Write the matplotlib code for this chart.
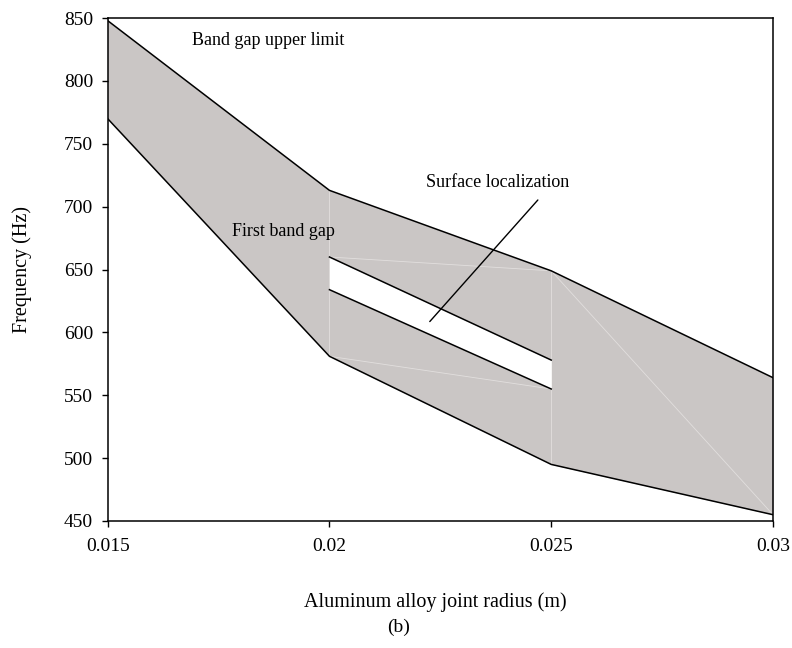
import matplotlib
matplotlib.use("Agg")
import matplotlib.pyplot as plt

# joint radius (m) and band gap edges (Hz)
radius = [0.015, 0.02, 0.025, 0.03]
upper = [848, 713, 649, 564]
lower = [770, 581, 495, 455]
# surface localization window (white stripe inside the gap)
win_x = [0.02, 0.025]
win_top = [660, 578]
win_bot = [634, 555]

FILL = "#cac6c5"
plt.rcParams["font.family"] = ["Liberation Serif", "DejaVu Serif"]
plt.rcParams["font.size"] = 13

fig = plt.figure(figsize=(7.92, 6.48), dpi=100)
ax = fig.add_axes([0.136, 0.196, 0.840, 0.776])

ax.fill_between(radius, lower, upper, color=FILL, lw=0)
ax.fill_between(win_x, win_bot, win_top, color="white", lw=0, zorder=2)

# faint mesh seams in the shaded area
seam = dict(color="#e2dfde", lw=0.6, zorder=1.5)
ax.plot([0.02, 0.025], [win_top[0], upper[2]], **seam)
ax.plot([0.02, 0.025], [lower[1], win_bot[1]], **seam)
ax.plot([0.02, 0.02], [lower[1], upper[1]], **seam)
ax.plot([0.025, 0.025], [lower[2], upper[2]], **seam)
ax.plot([0.025, 0.03], [upper[2], lower[3]], **seam)

ax.plot(radius, upper, color="black", lw=1.1, zorder=3)
ax.plot(radius, lower, color="black", lw=1.1, zorder=3)
ax.plot(win_x, win_top, color="black", lw=1.1, zorder=3)
ax.plot(win_x, win_bot, color="black", lw=1.1, zorder=3)

ax.text(0.01689, 832, "Band gap upper limit", va="center", fontsize=13)
ax.text(0.0178, 680, "First band gap", va="center", fontsize=13)
ax.text(0.02217, 719, "Surface localization", va="center", fontsize=13)
ax.annotate("", xy=(0.02222, 607), xytext=(0.02474, 707),
            arrowprops=dict(arrowstyle="-", color="black", lw=1.0), zorder=4)

ax.set_xlim(0.015, 0.03)
ax.set_ylim(450, 850)
ax.set_xticks([0.015, 0.02, 0.025, 0.03])
ax.set_xticklabels(["0.015", "0.02", "0.025", "0.03"])
ax.set_yticks(range(450, 851, 50))
ax.tick_params(direction="out", length=4.5, width=1, pad=6, labelsize=14)
ax.tick_params(axis="x", pad=8)
for s in ax.spines.values():
    s.set_linewidth(1.1)

ax.set_ylabel("Frequency (Hz)", fontsize=14.5)
ax.yaxis.set_label_coords(-0.129, 0.5)
ax.yaxis.label.set_va("center")
ax.set_xlabel("Aluminum alloy joint radius (m)", fontsize=14.5)
ax.xaxis.set_label_coords(0.493, -0.161)
ax.xaxis.label.set_va("center")
fig.text(0.503, 0.0324, "(b)", ha="center", va="center", fontsize=14)

fig.savefig("out.png", dpi=100)
